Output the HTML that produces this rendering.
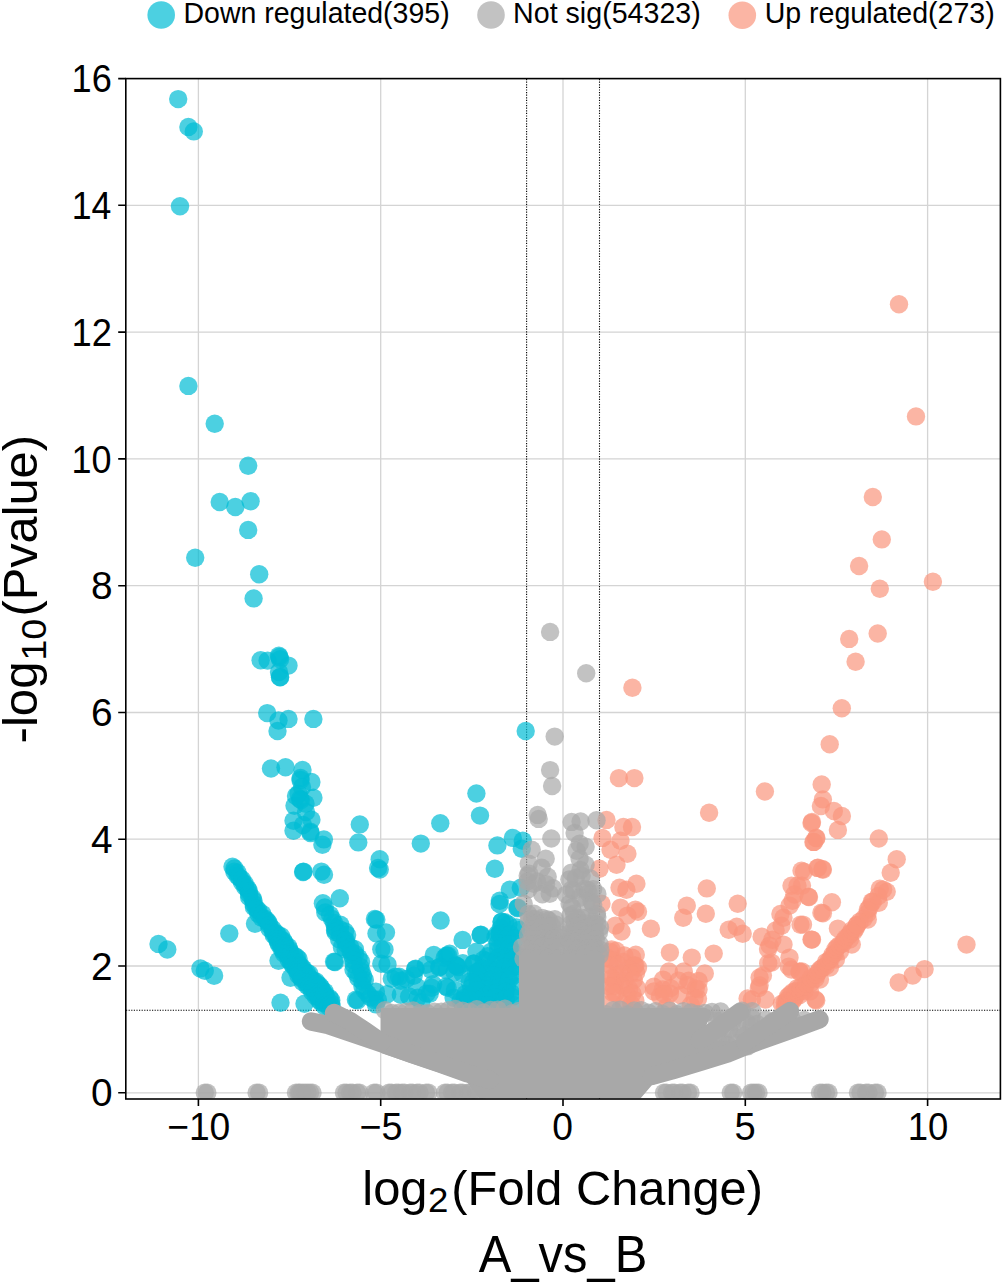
<!DOCTYPE html>
<html><head><meta charset="utf-8">
<style>
html,body{margin:0;padding:0;background:#fff;}
body{width:1003px;height:1284px;overflow:hidden;}
svg{display:block;font-family:"Liberation Sans",sans-serif;}
</style></head>
<body>
<svg width="1003" height="1284" viewBox="0 0 1003 1284">
<defs><clipPath id="pa"><rect x="126.6" y="79.4" width="873" height="1018.8"/></clipPath></defs>
<rect width="1003" height="1284" fill="#fff"/>
<g stroke="#d4d4d4" stroke-width="1.3" fill="none">
<path d="M198.4 79V1099M380.7 79V1099M563 79V1099M745.3 79V1099M927.6 79V1099"/>
<path d="M126 1092.8H1000M126 966H1000M126 839.2H1000M126 712.5H1000M126 585.7H1000M126 458.9H1000M126 332.1H1000M126 205.3H1000"/>
</g>
<g stroke="#000" stroke-width="1.1" stroke-dasharray="1.2 1.4" fill="none">
<path d="M526.6 79V1099M599.5 79V1099M126 1010.3H1000"/>
</g>
<g clip-path="url(#pa)">
<g fill="#00BCD4" fill-opacity="0.7"><circle cx="178.2" cy="99.1" r="9.2"/><circle cx="188.4" cy="126.9" r="9.2"/><circle cx="193.8" cy="131.4" r="9.2"/><circle cx="180.0" cy="206.2" r="9.2"/><circle cx="188.4" cy="385.9" r="9.2"/><circle cx="214.7" cy="423.8" r="9.2"/><circle cx="248.2" cy="465.7" r="9.2"/><circle cx="219.7" cy="502.0" r="9.2"/><circle cx="235.3" cy="507.0" r="9.2"/><circle cx="250.6" cy="501.2" r="9.2"/><circle cx="248.2" cy="529.9" r="9.2"/><circle cx="195.2" cy="557.8" r="9.2"/><circle cx="259.2" cy="574.3" r="9.2"/><circle cx="253.6" cy="598.4" r="9.2"/><circle cx="260.6" cy="660.2" r="9.2"/><circle cx="267.6" cy="660.6" r="9.2"/><circle cx="278.9" cy="655.7" r="9.2"/><circle cx="280.1" cy="659.2" r="9.2"/><circle cx="288.5" cy="665.6" r="9.2"/><circle cx="280.1" cy="677.2" r="9.2"/><circle cx="279.0" cy="672.0" r="9.2"/><circle cx="267.2" cy="713.1" r="9.2"/><circle cx="278.5" cy="720.5" r="9.2"/><circle cx="288.5" cy="718.9" r="9.2"/><circle cx="277.5" cy="731.0" r="9.2"/><circle cx="313.4" cy="718.9" r="9.2"/><circle cx="271.0" cy="768.5" r="9.2"/><circle cx="285.5" cy="767.3" r="9.2"/><circle cx="302.5" cy="769.9" r="9.2"/><circle cx="300.5" cy="777.9" r="9.2"/><circle cx="311.4" cy="781.9" r="9.2"/><circle cx="298.5" cy="793.8" r="9.2"/><circle cx="313.4" cy="797.8" r="9.2"/><circle cx="305.5" cy="803.8" r="9.2"/><circle cx="294.5" cy="805.8" r="9.2"/><circle cx="293.5" cy="820.8" r="9.2"/><circle cx="311.4" cy="819.8" r="9.2"/><circle cx="293.5" cy="830.7" r="9.2"/><circle cx="310.4" cy="831.7" r="9.2"/><circle cx="302.0" cy="787.0" r="9.2"/><circle cx="300.0" cy="799.0" r="9.2"/><circle cx="306.0" cy="812.0" r="9.2"/><circle cx="303.0" cy="825.0" r="9.2"/><circle cx="322.4" cy="844.7" r="9.2"/><circle cx="303.5" cy="871.6" r="9.2"/><circle cx="321.4" cy="871.6" r="9.2"/><circle cx="324.0" cy="874.8" r="9.2"/><circle cx="323.9" cy="839.4" r="9.2"/><circle cx="359.8" cy="824.4" r="9.2"/><circle cx="358.3" cy="842.4" r="9.2"/><circle cx="440.3" cy="823.3" r="9.2"/><circle cx="476.4" cy="793.5" r="9.2"/><circle cx="480.0" cy="815.6" r="9.2"/><circle cx="420.8" cy="843.6" r="9.2"/><circle cx="379.7" cy="859.2" r="9.2"/><circle cx="379.7" cy="869.6" r="9.2"/><circle cx="310.5" cy="833.0" r="9.2"/><circle cx="279.5" cy="657.0" r="9.2"/><circle cx="280.0" cy="677.0" r="9.2"/><circle cx="300.5" cy="780.0" r="9.2"/><circle cx="301.0" cy="800.0" r="9.2"/><circle cx="296.0" cy="796.0" r="9.2"/><circle cx="229.3" cy="933.5" r="9.2"/><circle cx="158.5" cy="943.9" r="9.2"/><circle cx="167.3" cy="949.5" r="9.2"/><circle cx="200.4" cy="968.4" r="9.2"/><circle cx="204.8" cy="970.8" r="9.2"/><circle cx="214.1" cy="975.8" r="9.2"/><circle cx="280.5" cy="1002.7" r="9.2"/><circle cx="255.0" cy="923.7" r="9.2"/><circle cx="278.5" cy="960.8" r="9.2"/><circle cx="290.5" cy="977.8" r="9.2"/><circle cx="304.5" cy="1003.7" r="9.2"/><circle cx="303.1" cy="872.0" r="9.2"/><circle cx="339.8" cy="898.3" r="9.2"/><circle cx="335.0" cy="962.0" r="9.2"/><circle cx="357.4" cy="1000.4" r="9.2"/><circle cx="374.9" cy="919.0" r="9.2"/><circle cx="378.1" cy="868.0" r="9.2"/><circle cx="376.5" cy="933.4" r="9.2"/><circle cx="381.3" cy="949.3" r="9.2"/><circle cx="381.3" cy="963.7" r="9.2"/><circle cx="376.3" cy="919.7" r="9.2"/><circle cx="386.0" cy="932.4" r="9.2"/><circle cx="384.5" cy="949.6" r="9.2"/><circle cx="387.5" cy="964.6" r="9.2"/><circle cx="395.7" cy="976.6" r="9.2"/><circle cx="415.1" cy="969.1" r="9.2"/><circle cx="440.6" cy="920.5" r="9.2"/><circle cx="439.1" cy="967.6" r="9.2"/><circle cx="446.5" cy="955.6" r="9.2"/><circle cx="391.8" cy="978.8" r="9.2"/><circle cx="400.8" cy="980.8" r="9.2"/><circle cx="415.7" cy="968.8" r="9.2"/><circle cx="413.7" cy="975.8" r="9.2"/><circle cx="416.7" cy="986.7" r="9.2"/><circle cx="400.8" cy="994.7" r="9.2"/><circle cx="417.7" cy="997.7" r="9.2"/><circle cx="431.7" cy="987.7" r="9.2"/><circle cx="447.6" cy="987.7" r="9.2"/><circle cx="429.7" cy="993.7" r="9.2"/><circle cx="462.6" cy="939.9" r="9.2"/><circle cx="480.5" cy="934.9" r="9.2"/><circle cx="449.6" cy="953.8" r="9.2"/><circle cx="444.7" cy="957.8" r="9.2"/><circle cx="439.7" cy="966.8" r="9.2"/><circle cx="456.6" cy="965.8" r="9.2"/><circle cx="462.6" cy="973.8" r="9.2"/><circle cx="473.6" cy="963.8" r="9.2"/><circle cx="483.5" cy="959.8" r="9.2"/><circle cx="469.6" cy="981.8" r="9.2"/><circle cx="453.6" cy="997.7" r="9.2"/><circle cx="465.6" cy="993.7" r="9.2"/><circle cx="499.5" cy="904.0" r="9.2"/><circle cx="501.5" cy="921.9" r="9.2"/><circle cx="499.5" cy="933.9" r="9.2"/><circle cx="517.4" cy="908.0" r="9.2"/><circle cx="519.4" cy="929.9" r="9.2"/><circle cx="355.9" cy="999.7" r="9.2"/><circle cx="334.0" cy="961.8" r="9.2"/><circle cx="335.0" cy="929.9" r="9.2"/><circle cx="375.9" cy="991.7" r="9.2"/><circle cx="377.9" cy="999.7" r="9.2"/><circle cx="525.7" cy="731.0" r="9.2"/><circle cx="512.8" cy="837.9" r="9.2"/><circle cx="522.8" cy="840.8" r="9.2"/><circle cx="521.8" cy="848.8" r="9.2"/><circle cx="497.4" cy="845.4" r="9.2"/><circle cx="494.8" cy="868.8" r="9.2"/><circle cx="509.8" cy="889.7" r="9.2"/><circle cx="520.8" cy="887.7" r="9.2"/><circle cx="499.8" cy="900.7" r="9.2"/><circle cx="517.8" cy="907.6" r="9.2"/><circle cx="501.8" cy="921.6" r="9.2"/><circle cx="480.9" cy="934.6" r="9.2"/><circle cx="499.8" cy="933.6" r="9.2"/><circle cx="448.0" cy="955.5" r="9.2"/><circle cx="456.0" cy="965.5" r="9.2"/><circle cx="446.0" cy="986.4" r="9.2"/><circle cx="473.9" cy="963.5" r="9.2"/><circle cx="232.5" cy="866.7" r="9.2"/><circle cx="234.5" cy="868.5" r="9.2"/><circle cx="234.4" cy="871.7" r="9.2"/><circle cx="237.6" cy="872.8" r="9.2"/><circle cx="237.7" cy="876.0" r="9.2"/><circle cx="239.6" cy="877.8" r="9.2"/><circle cx="242.0" cy="879.5" r="9.2"/><circle cx="242.1" cy="882.6" r="9.2"/><circle cx="245.0" cy="883.9" r="9.2"/><circle cx="245.2" cy="886.9" r="9.2"/><circle cx="247.7" cy="888.7" r="9.2"/><circle cx="248.9" cy="891.1" r="9.2"/><circle cx="249.1" cy="894.0" r="9.2"/><circle cx="249.1" cy="897.1" r="9.2"/><circle cx="252.6" cy="898.3" r="9.2"/><circle cx="253.6" cy="900.9" r="9.2"/><circle cx="253.6" cy="903.9" r="9.2"/><circle cx="253.9" cy="906.9" r="9.2"/><circle cx="256.4" cy="908.7" r="9.2"/><circle cx="258.4" cy="910.4" r="9.2"/><circle cx="258.3" cy="913.8" r="9.2"/><circle cx="262.5" cy="914.0" r="9.2"/><circle cx="261.7" cy="917.8" r="9.2"/><circle cx="264.9" cy="918.7" r="9.2"/><circle cx="266.8" cy="920.6" r="9.2"/><circle cx="268.4" cy="922.6" r="9.2"/><circle cx="269.4" cy="925.2" r="9.2"/><circle cx="269.4" cy="928.4" r="9.2"/><circle cx="272.8" cy="929.2" r="9.2"/><circle cx="273.2" cy="932.2" r="9.2"/><circle cx="276.2" cy="933.3" r="9.2"/><circle cx="273.7" cy="935.0" r="9.2"/><circle cx="278.0" cy="935.1" r="9.2"/><circle cx="276.1" cy="936.6" r="9.2"/><circle cx="281.1" cy="936.2" r="9.2"/><circle cx="277.1" cy="939.1" r="9.2"/><circle cx="280.9" cy="939.6" r="9.2"/><circle cx="277.9" cy="941.7" r="9.2"/><circle cx="283.6" cy="940.9" r="9.2"/><circle cx="278.9" cy="944.2" r="9.2"/><circle cx="284.8" cy="943.2" r="9.2"/><circle cx="281.2" cy="945.8" r="9.2"/><circle cx="285.3" cy="946.1" r="9.2"/><circle cx="281.5" cy="948.8" r="9.2"/><circle cx="288.5" cy="947.0" r="9.2"/><circle cx="283.3" cy="950.7" r="9.2"/><circle cx="289.3" cy="949.7" r="9.2"/><circle cx="283.9" cy="953.5" r="9.2"/><circle cx="290.2" cy="952.2" r="9.2"/><circle cx="287.1" cy="954.5" r="9.2"/><circle cx="291.1" cy="954.8" r="9.2"/><circle cx="289.1" cy="956.3" r="9.2"/><circle cx="294.3" cy="955.7" r="9.2"/><circle cx="288.7" cy="959.8" r="9.2"/><circle cx="296.7" cy="957.3" r="9.2"/><circle cx="290.9" cy="961.4" r="9.2"/><circle cx="298.6" cy="959.1" r="9.2"/><circle cx="291.9" cy="963.9" r="9.2"/><circle cx="298.0" cy="962.8" r="9.2"/><circle cx="293.6" cy="965.9" r="9.2"/><circle cx="299.2" cy="965.1" r="9.2"/><circle cx="295.9" cy="967.5" r="9.2"/><circle cx="301.3" cy="966.8" r="9.2"/><circle cx="296.5" cy="970.3" r="9.2"/><circle cx="303.3" cy="968.7" r="9.2"/><circle cx="298.4" cy="972.1" r="9.2"/><circle cx="304.1" cy="971.3" r="9.2"/><circle cx="298.4" cy="975.3" r="9.2"/><circle cx="306.7" cy="972.6" r="9.2"/><circle cx="300.7" cy="976.9" r="9.2"/><circle cx="309.5" cy="973.9" r="9.2"/><circle cx="302.1" cy="979.1" r="9.2"/><circle cx="309.3" cy="977.2" r="9.2"/><circle cx="302.7" cy="981.9" r="9.2"/><circle cx="310.2" cy="979.4" r="9.2"/><circle cx="306.5" cy="982.8" r="9.2"/><circle cx="313.2" cy="980.4" r="9.2"/><circle cx="307.2" cy="985.7" r="9.2"/><circle cx="316.0" cy="981.5" r="9.2"/><circle cx="309.6" cy="987.2" r="9.2"/><circle cx="317.4" cy="983.9" r="9.2"/><circle cx="312.3" cy="988.4" r="9.2"/><circle cx="319.5" cy="985.6" r="9.2"/><circle cx="312.3" cy="992.0" r="9.2"/><circle cx="321.1" cy="987.8" r="9.2"/><circle cx="315.5" cy="992.7" r="9.2"/><circle cx="322.2" cy="990.4" r="9.2"/><circle cx="315.7" cy="996.2" r="9.2"/><circle cx="324.8" cy="991.7" r="9.2"/><circle cx="318.6" cy="997.2" r="9.2"/><circle cx="325.3" cy="994.8" r="9.2"/><circle cx="319.2" cy="1000.3" r="9.2"/><circle cx="326.4" cy="997.4" r="9.2"/><circle cx="321.0" cy="1002.2" r="9.2"/><circle cx="329.6" cy="998.1" r="9.2"/><circle cx="324.0" cy="1003.1" r="9.2"/><circle cx="331.2" cy="1000.3" r="9.2"/><circle cx="324.6" cy="1006.3" r="9.2"/><circle cx="331.4" cy="1003.8" r="9.2"/><circle cx="328.3" cy="1006.5" r="9.2"/><circle cx="331.8" cy="1007.0" r="9.2"/><circle cx="322.9" cy="903.2" r="9.2"/><circle cx="324.8" cy="907.4" r="9.2"/><circle cx="325.3" cy="912.4" r="9.2"/><circle cx="330.0" cy="914.8" r="9.2"/><circle cx="332.2" cy="918.9" r="9.2"/><circle cx="334.2" cy="923.0" r="9.2"/><circle cx="340.4" cy="924.7" r="9.2"/><circle cx="335.2" cy="927.6" r="9.2"/><circle cx="340.1" cy="929.5" r="9.2"/><circle cx="335.5" cy="932.0" r="9.2"/><circle cx="345.0" cy="931.5" r="9.2"/><circle cx="339.9" cy="934.2" r="9.2"/><circle cx="347.1" cy="935.0" r="9.2"/><circle cx="339.1" cy="939.3" r="9.2"/><circle cx="345.9" cy="940.2" r="9.2"/><circle cx="345.0" cy="940.7" r="9.2"/><circle cx="346.5" cy="944.5" r="9.2"/><circle cx="341.9" cy="947.0" r="9.2"/><circle cx="350.2" cy="947.1" r="9.2"/><circle cx="345.6" cy="949.6" r="9.2"/><circle cx="354.9" cy="949.2" r="9.2"/><circle cx="350.6" cy="951.5" r="9.2"/><circle cx="355.1" cy="954.0" r="9.2"/><circle cx="352.2" cy="955.2" r="9.2"/><circle cx="358.6" cy="957.7" r="9.2"/><circle cx="353.0" cy="959.9" r="9.2"/><circle cx="361.1" cy="961.7" r="9.2"/><circle cx="353.7" cy="964.6" r="9.2"/><circle cx="360.4" cy="967.0" r="9.2"/><circle cx="353.5" cy="969.7" r="9.2"/><circle cx="361.5" cy="971.5" r="9.2"/><circle cx="356.5" cy="973.5" r="9.2"/><circle cx="363.2" cy="975.9" r="9.2"/><circle cx="358.3" cy="977.9" r="9.2"/><circle cx="364.9" cy="979.9" r="9.2"/><circle cx="362.3" cy="981.3" r="9.2"/><circle cx="362.5" cy="986.4" r="9.2"/><circle cx="364.6" cy="990.2" r="9.2"/><circle cx="367.6" cy="993.7" r="9.2"/><circle cx="370.5" cy="997.2" r="9.2"/><circle cx="374.7" cy="1000.0" r="9.2"/><circle cx="375.9" cy="1004.4" r="9.2"/><circle cx="505.1" cy="922.4" r="9.2"/><circle cx="500.6" cy="928.5" r="9.2"/><circle cx="508.4" cy="924.5" r="9.2"/><circle cx="516.4" cy="927.5" r="9.2"/><circle cx="497.0" cy="934.3" r="9.2"/><circle cx="504.0" cy="933.8" r="9.2"/><circle cx="510.3" cy="934.1" r="9.2"/><circle cx="495.5" cy="937.3" r="9.2"/><circle cx="502.7" cy="939.3" r="9.2"/><circle cx="507.5" cy="938.4" r="9.2"/><circle cx="515.2" cy="938.7" r="9.2"/><circle cx="497.7" cy="943.2" r="9.2"/><circle cx="502.7" cy="946.2" r="9.2"/><circle cx="509.1" cy="944.5" r="9.2"/><circle cx="491.2" cy="951.6" r="9.2"/><circle cx="498.2" cy="949.3" r="9.2"/><circle cx="509.0" cy="948.8" r="9.2"/><circle cx="513.0" cy="951.4" r="9.2"/><circle cx="487.7" cy="956.3" r="9.2"/><circle cx="498.3" cy="957.7" r="9.2"/><circle cx="506.0" cy="957.8" r="9.2"/><circle cx="512.8" cy="957.5" r="9.2"/><circle cx="517.9" cy="955.2" r="9.2"/><circle cx="486.6" cy="960.9" r="9.2"/><circle cx="495.8" cy="961.4" r="9.2"/><circle cx="501.0" cy="962.2" r="9.2"/><circle cx="505.1" cy="962.9" r="9.2"/><circle cx="512.7" cy="960.5" r="9.2"/><circle cx="478.1" cy="971.1" r="9.2"/><circle cx="481.7" cy="968.4" r="9.2"/><circle cx="488.8" cy="969.2" r="9.2"/><circle cx="497.6" cy="970.2" r="9.2"/><circle cx="505.0" cy="967.5" r="9.2"/><circle cx="510.6" cy="968.8" r="9.2"/><circle cx="515.6" cy="966.4" r="9.2"/><circle cx="478.2" cy="973.4" r="9.2"/><circle cx="486.6" cy="974.6" r="9.2"/><circle cx="492.6" cy="975.5" r="9.2"/><circle cx="499.1" cy="976.8" r="9.2"/><circle cx="509.8" cy="975.9" r="9.2"/><circle cx="514.2" cy="974.9" r="9.2"/><circle cx="477.5" cy="980.2" r="9.2"/><circle cx="483.1" cy="983.0" r="9.2"/><circle cx="490.5" cy="979.9" r="9.2"/><circle cx="499.4" cy="980.3" r="9.2"/><circle cx="501.6" cy="981.8" r="9.2"/><circle cx="509.0" cy="979.9" r="9.2"/><circle cx="471.1" cy="987.4" r="9.2"/><circle cx="477.4" cy="985.9" r="9.2"/><circle cx="485.9" cy="989.1" r="9.2"/><circle cx="491.4" cy="988.2" r="9.2"/><circle cx="499.0" cy="987.3" r="9.2"/><circle cx="507.0" cy="986.8" r="9.2"/><circle cx="515.7" cy="986.5" r="9.2"/><circle cx="469.7" cy="995.3" r="9.2"/><circle cx="476.9" cy="990.8" r="9.2"/><circle cx="483.8" cy="994.4" r="9.2"/><circle cx="491.1" cy="993.1" r="9.2"/><circle cx="496.3" cy="992.9" r="9.2"/><circle cx="505.5" cy="991.9" r="9.2"/><circle cx="511.1" cy="993.0" r="9.2"/><circle cx="460.6" cy="1000.8" r="9.2"/><circle cx="464.5" cy="997.9" r="9.2"/><circle cx="472.4" cy="998.0" r="9.2"/><circle cx="479.1" cy="1000.0" r="9.2"/><circle cx="488.6" cy="999.6" r="9.2"/><circle cx="495.1" cy="997.2" r="9.2"/><circle cx="499.8" cy="1001.6" r="9.2"/><circle cx="505.8" cy="998.8" r="9.2"/><circle cx="512.4" cy="997.1" r="9.2"/><circle cx="462.7" cy="1003.4" r="9.2"/><circle cx="468.0" cy="1003.9" r="9.2"/><circle cx="482.7" cy="1005.4" r="9.2"/><circle cx="488.1" cy="1005.5" r="9.2"/><circle cx="502.0" cy="1005.3" r="9.2"/><circle cx="512.1" cy="1004.1" r="9.2"/><circle cx="476.4" cy="951.8" r="9.2"/><circle cx="425.9" cy="964.8" r="9.2"/><circle cx="433.8" cy="955.0" r="9.2"/><circle cx="458.1" cy="967.1" r="9.2"/><circle cx="462.8" cy="963.2" r="9.2"/><circle cx="399.1" cy="976.7" r="9.2"/><circle cx="406.2" cy="978.9" r="9.2"/><circle cx="431.0" cy="969.7" r="9.2"/><circle cx="446.7" cy="970.1" r="9.2"/><circle cx="454.5" cy="971.9" r="9.2"/><circle cx="476.0" cy="972.8" r="9.2"/><circle cx="387.2" cy="994.3" r="9.2"/><circle cx="409.1" cy="996.4" r="9.2"/><circle cx="426.6" cy="993.6" r="9.2"/><circle cx="433.0" cy="984.2" r="9.2"/><circle cx="454.9" cy="989.9" r="9.2"/><circle cx="472.7" cy="982.9" r="9.2"/><circle cx="421.3" cy="1002.4" r="9.2"/><circle cx="469.0" cy="999.3" r="9.2"/></g>
<g fill="#F9967D" fill-opacity="0.7"><circle cx="899.0" cy="304.2" r="9.2"/><circle cx="916.0" cy="416.4" r="9.2"/><circle cx="872.8" cy="497.0" r="9.2"/><circle cx="881.8" cy="539.4" r="9.2"/><circle cx="859.1" cy="566.0" r="9.2"/><circle cx="879.8" cy="588.7" r="9.2"/><circle cx="932.9" cy="581.7" r="9.2"/><circle cx="877.7" cy="633.5" r="9.2"/><circle cx="849.2" cy="638.9" r="9.2"/><circle cx="855.6" cy="661.8" r="9.2"/><circle cx="841.8" cy="708.3" r="9.2"/><circle cx="829.7" cy="744.2" r="9.2"/><circle cx="821.7" cy="784.4" r="9.2"/><circle cx="822.9" cy="799.4" r="9.2"/><circle cx="632.4" cy="687.7" r="9.2"/><circle cx="618.9" cy="778.1" r="9.2"/><circle cx="634.4" cy="778.1" r="9.2"/><circle cx="709.1" cy="812.7" r="9.2"/><circle cx="764.9" cy="791.5" r="9.2"/><circle cx="606.5" cy="819.9" r="9.2"/><circle cx="623.4" cy="826.9" r="9.2"/><circle cx="602.5" cy="837.9" r="9.2"/><circle cx="620.5" cy="840.8" r="9.2"/><circle cx="610.5" cy="849.8" r="9.2"/><circle cx="627.4" cy="853.8" r="9.2"/><circle cx="599.5" cy="868.8" r="9.2"/><circle cx="616.5" cy="864.8" r="9.2"/><circle cx="636.4" cy="883.7" r="9.2"/><circle cx="619.5" cy="887.7" r="9.2"/><circle cx="626.4" cy="889.7" r="9.2"/><circle cx="601.5" cy="903.7" r="9.2"/><circle cx="620.5" cy="907.6" r="9.2"/><circle cx="635.4" cy="909.6" r="9.2"/><circle cx="627.4" cy="915.6" r="9.2"/><circle cx="615.5" cy="925.6" r="9.2"/><circle cx="621.5" cy="931.6" r="9.2"/><circle cx="611.5" cy="949.5" r="9.2"/><circle cx="635.4" cy="965.5" r="9.2"/><circle cx="632.0" cy="827.0" r="9.2"/><circle cx="638.0" cy="911.7" r="9.2"/><circle cx="650.9" cy="928.7" r="9.2"/><circle cx="706.8" cy="888.4" r="9.2"/><circle cx="686.8" cy="905.7" r="9.2"/><circle cx="683.2" cy="917.7" r="9.2"/><circle cx="705.8" cy="913.7" r="9.2"/><circle cx="737.7" cy="903.7" r="9.2"/><circle cx="728.7" cy="929.7" r="9.2"/><circle cx="736.7" cy="926.7" r="9.2"/><circle cx="742.7" cy="933.7" r="9.2"/><circle cx="669.9" cy="952.6" r="9.2"/><circle cx="691.8" cy="957.6" r="9.2"/><circle cx="713.7" cy="953.6" r="9.2"/><circle cx="638.0" cy="967.6" r="9.2"/><circle cx="668.9" cy="971.5" r="9.2"/><circle cx="683.8" cy="971.5" r="9.2"/><circle cx="704.8" cy="973.5" r="9.2"/><circle cx="653.9" cy="991.5" r="9.2"/><circle cx="669.9" cy="993.5" r="9.2"/><circle cx="695.8" cy="988.5" r="9.2"/><circle cx="747.6" cy="998.5" r="9.2"/><circle cx="761.6" cy="936.7" r="9.2"/><circle cx="769.6" cy="945.6" r="9.2"/><circle cx="783.5" cy="917.7" r="9.2"/><circle cx="781.5" cy="925.7" r="9.2"/><circle cx="783.5" cy="944.6" r="9.2"/><circle cx="789.5" cy="957.6" r="9.2"/><circle cx="771.6" cy="962.6" r="9.2"/><circle cx="759.6" cy="977.5" r="9.2"/><circle cx="759.6" cy="985.5" r="9.2"/><circle cx="765.6" cy="999.5" r="9.2"/><circle cx="791.5" cy="969.5" r="9.2"/><circle cx="799.5" cy="971.5" r="9.2"/><circle cx="800.5" cy="924.7" r="9.2"/><circle cx="811.5" cy="939.6" r="9.2"/><circle cx="791.5" cy="885.8" r="9.2"/><circle cx="797.5" cy="885.8" r="9.2"/><circle cx="792.5" cy="900.8" r="9.2"/><circle cx="801.5" cy="870.8" r="9.2"/><circle cx="808.5" cy="896.8" r="9.2"/><circle cx="817.4" cy="867.9" r="9.2"/><circle cx="822.4" cy="868.9" r="9.2"/><circle cx="821.4" cy="912.7" r="9.2"/><circle cx="811.5" cy="823.0" r="9.2"/><circle cx="813.4" cy="841.9" r="9.2"/><circle cx="816.4" cy="838.0" r="9.2"/><circle cx="815.4" cy="999.5" r="9.2"/><circle cx="820.9" cy="806.0" r="9.2"/><circle cx="833.9" cy="811.0" r="9.2"/><circle cx="841.9" cy="816.0" r="9.2"/><circle cx="812.0" cy="821.9" r="9.2"/><circle cx="837.9" cy="829.9" r="9.2"/><circle cx="816.0" cy="837.9" r="9.2"/><circle cx="814.0" cy="841.9" r="9.2"/><circle cx="878.8" cy="838.5" r="9.2"/><circle cx="896.7" cy="859.2" r="9.2"/><circle cx="890.7" cy="872.8" r="9.2"/><circle cx="879.8" cy="888.7" r="9.2"/><circle cx="886.7" cy="891.7" r="9.2"/><circle cx="878.8" cy="902.7" r="9.2"/><circle cx="871.8" cy="901.7" r="9.2"/><circle cx="867.8" cy="909.7" r="9.2"/><circle cx="867.8" cy="919.6" r="9.2"/><circle cx="859.8" cy="921.6" r="9.2"/><circle cx="853.8" cy="931.6" r="9.2"/><circle cx="849.9" cy="939.6" r="9.2"/><circle cx="851.8" cy="944.6" r="9.2"/><circle cx="839.9" cy="951.5" r="9.2"/><circle cx="835.9" cy="959.5" r="9.2"/><circle cx="829.9" cy="967.5" r="9.2"/><circle cx="819.9" cy="979.5" r="9.2"/><circle cx="810.0" cy="991.4" r="9.2"/><circle cx="804.0" cy="871.8" r="9.2"/><circle cx="818.0" cy="867.8" r="9.2"/><circle cx="822.9" cy="869.8" r="9.2"/><circle cx="802.0" cy="885.7" r="9.2"/><circle cx="809.0" cy="897.1" r="9.2"/><circle cx="831.9" cy="902.3" r="9.2"/><circle cx="822.9" cy="913.3" r="9.2"/><circle cx="803.0" cy="924.6" r="9.2"/><circle cx="837.9" cy="928.6" r="9.2"/><circle cx="812.0" cy="939.6" r="9.2"/><circle cx="802.0" cy="971.5" r="9.2"/><circle cx="966.5" cy="944.6" r="9.2"/><circle cx="924.6" cy="969.1" r="9.2"/><circle cx="912.7" cy="975.5" r="9.2"/><circle cx="898.7" cy="982.5" r="9.2"/><circle cx="799.7" cy="972.0" r="9.2"/><circle cx="788.8" cy="966.6" r="9.2"/><circle cx="816.2" cy="1000.6" r="9.2"/><circle cx="786.6" cy="1002.8" r="9.2"/><circle cx="781.8" cy="1003.8" r="9.2"/><circle cx="784.9" cy="1006.9" r="9.2"/><circle cx="784.9" cy="1002.4" r="9.2"/><circle cx="786.9" cy="1004.4" r="9.2"/><circle cx="786.9" cy="1000.0" r="9.2"/><circle cx="789.8" cy="1002.9" r="9.2"/><circle cx="788.0" cy="996.6" r="9.2"/><circle cx="792.4" cy="1001.0" r="9.2"/><circle cx="790.2" cy="994.4" r="9.2"/><circle cx="794.4" cy="998.6" r="9.2"/><circle cx="792.6" cy="992.3" r="9.2"/><circle cx="795.7" cy="995.4" r="9.2"/><circle cx="795.7" cy="991.0" r="9.2"/><circle cx="799.7" cy="995.1" r="9.2"/><circle cx="797.3" cy="988.1" r="9.2"/><circle cx="800.4" cy="991.3" r="9.2"/><circle cx="800.9" cy="987.1" r="9.2"/><circle cx="804.2" cy="991.1" r="9.2"/><circle cx="804.6" cy="986.3" r="9.2"/><circle cx="806.8" cy="983.7" r="9.2"/><circle cx="810.7" cy="983.1" r="9.2"/><circle cx="811.1" cy="978.3" r="9.2"/><circle cx="815.6" cy="978.4" r="9.2"/><circle cx="816.7" cy="974.7" r="9.2"/><circle cx="818.2" cy="971.9" r="9.2"/><circle cx="820.0" cy="969.4" r="9.2"/><circle cx="822.5" cy="967.4" r="9.2"/><circle cx="825.9" cy="966.0" r="9.2"/><circle cx="826.0" cy="962.1" r="9.2"/><circle cx="829.0" cy="960.5" r="9.2"/><circle cx="831.1" cy="958.2" r="9.2"/><circle cx="832.2" cy="955.1" r="9.2"/><circle cx="834.7" cy="953.1" r="9.2"/><circle cx="835.3" cy="949.5" r="9.2"/><circle cx="837.2" cy="947.1" r="9.2"/><circle cx="839.6" cy="945.0" r="9.2"/><circle cx="842.9" cy="943.6" r="9.2"/><circle cx="844.1" cy="940.6" r="9.2"/><circle cx="845.8" cy="937.9" r="9.2"/><circle cx="848.5" cy="936.1" r="9.2"/><circle cx="850.1" cy="933.4" r="9.2"/><circle cx="851.9" cy="930.2" r="9.2"/><circle cx="855.6" cy="928.5" r="9.2"/><circle cx="857.0" cy="925.0" r="9.2"/><circle cx="856.9" cy="924.9" r="9.2"/><circle cx="863.8" cy="918.5" r="9.2"/><circle cx="867.5" cy="913.4" r="9.2"/><circle cx="869.6" cy="907.2" r="9.2"/><circle cx="872.8" cy="901.8" r="9.2"/><circle cx="878.3" cy="895.9" r="9.2"/><circle cx="883.1" cy="889.6" r="9.2"/><circle cx="751.9" cy="999.5" r="9.2"/><circle cx="758.8" cy="987.9" r="9.2"/><circle cx="762.9" cy="975.4" r="9.2"/><circle cx="768.2" cy="963.3" r="9.2"/><circle cx="768.0" cy="949.1" r="9.2"/><circle cx="772.3" cy="939.8" r="9.2"/><circle cx="775.6" cy="930.4" r="9.2"/><circle cx="780.4" cy="914.0" r="9.2"/><circle cx="789.6" cy="905.6" r="9.2"/><circle cx="794.4" cy="894.5" r="9.2"/><circle cx="610.2" cy="951.7" r="9.2"/><circle cx="616.2" cy="950.8" r="9.2"/><circle cx="624.4" cy="955.4" r="9.2"/><circle cx="635.8" cy="954.7" r="9.2"/><circle cx="607.7" cy="958.2" r="9.2"/><circle cx="612.9" cy="960.6" r="9.2"/><circle cx="623.3" cy="961.9" r="9.2"/><circle cx="632.1" cy="957.6" r="9.2"/><circle cx="610.0" cy="965.1" r="9.2"/><circle cx="617.9" cy="964.6" r="9.2"/><circle cx="628.4" cy="968.9" r="9.2"/><circle cx="634.3" cy="965.8" r="9.2"/><circle cx="608.3" cy="974.2" r="9.2"/><circle cx="616.1" cy="975.8" r="9.2"/><circle cx="622.0" cy="973.4" r="9.2"/><circle cx="630.6" cy="973.5" r="9.2"/><circle cx="636.1" cy="972.7" r="9.2"/><circle cx="611.8" cy="978.2" r="9.2"/><circle cx="615.5" cy="981.5" r="9.2"/><circle cx="624.8" cy="981.0" r="9.2"/><circle cx="633.8" cy="979.9" r="9.2"/><circle cx="608.8" cy="986.1" r="9.2"/><circle cx="613.5" cy="986.1" r="9.2"/><circle cx="622.7" cy="986.5" r="9.2"/><circle cx="629.2" cy="989.1" r="9.2"/><circle cx="637.0" cy="988.1" r="9.2"/><circle cx="612.3" cy="992.5" r="9.2"/><circle cx="615.5" cy="993.2" r="9.2"/><circle cx="627.5" cy="995.4" r="9.2"/><circle cx="632.5" cy="993.8" r="9.2"/><circle cx="611.4" cy="1002.8" r="9.2"/><circle cx="624.2" cy="1004.2" r="9.2"/><circle cx="631.3" cy="1004.3" r="9.2"/><circle cx="635.3" cy="1000.5" r="9.2"/><circle cx="663.1" cy="979.6" r="9.2"/><circle cx="678.7" cy="980.6" r="9.2"/><circle cx="688.7" cy="980.7" r="9.2"/><circle cx="698.7" cy="981.0" r="9.2"/><circle cx="653.8" cy="986.7" r="9.2"/><circle cx="662.9" cy="989.4" r="9.2"/><circle cx="670.5" cy="988.1" r="9.2"/><circle cx="687.5" cy="985.2" r="9.2"/><circle cx="698.5" cy="989.4" r="9.2"/><circle cx="660.0" cy="996.6" r="9.2"/><circle cx="664.0" cy="994.1" r="9.2"/><circle cx="680.3" cy="995.1" r="9.2"/><circle cx="694.5" cy="998.0" r="9.2"/><circle cx="698.0" cy="998.7" r="9.2"/><circle cx="666.6" cy="1006.9" r="9.2"/><circle cx="690.8" cy="1005.3" r="9.2"/></g>
<g fill="#A8A8A8" fill-opacity="0.7"><circle cx="550.1" cy="631.9" r="9.2"/><circle cx="586.2" cy="673.2" r="9.2"/><circle cx="554.7" cy="736.6" r="9.2"/><circle cx="550.1" cy="770.1" r="9.2"/><circle cx="552.1" cy="786.0" r="9.2"/><circle cx="537.7" cy="814.9" r="9.2"/><circle cx="538.7" cy="818.9" r="9.2"/><circle cx="551.3" cy="838.5" r="9.2"/><circle cx="571.6" cy="821.9" r="9.2"/><circle cx="580.6" cy="821.5" r="9.2"/><circle cx="596.5" cy="820.3" r="9.2"/><circle cx="574.6" cy="832.9" r="9.2"/><circle cx="579.6" cy="843.8" r="9.2"/><circle cx="585.6" cy="846.8" r="9.2"/><circle cx="576.6" cy="850.8" r="9.2"/><circle cx="579.6" cy="858.8" r="9.2"/><circle cx="585.6" cy="864.8" r="9.2"/><circle cx="531.7" cy="849.8" r="9.2"/><circle cx="545.7" cy="858.8" r="9.2"/><circle cx="528.7" cy="863.8" r="9.2"/><circle cx="541.7" cy="867.8" r="9.2"/><circle cx="527.7" cy="875.7" r="9.2"/><circle cx="547.7" cy="876.7" r="9.2"/><circle cx="533.7" cy="883.7" r="9.2"/><circle cx="549.7" cy="893.7" r="9.2"/><circle cx="523.7" cy="903.7" r="9.2"/><circle cx="571.6" cy="889.7" r="9.2"/><circle cx="581.6" cy="875.7" r="9.2"/><circle cx="587.6" cy="889.7" r="9.2"/><circle cx="569.6" cy="903.7" r="9.2"/><circle cx="591.5" cy="901.7" r="9.2"/><circle cx="204.8" cy="1092.8" r="9.2"/><circle cx="256.6" cy="1092.8" r="9.2"/><circle cx="296.0" cy="1092.8" r="9.2"/><circle cx="300.0" cy="1092.8" r="9.2"/><circle cx="305.0" cy="1092.8" r="9.2"/><circle cx="310.0" cy="1092.8" r="9.2"/><circle cx="344.0" cy="1092.8" r="9.2"/><circle cx="350.0" cy="1092.8" r="9.2"/><circle cx="357.0" cy="1092.8" r="9.2"/><circle cx="374.0" cy="1092.8" r="9.2"/><circle cx="389.0" cy="1092.8" r="9.2"/><circle cx="396.0" cy="1092.8" r="9.2"/><circle cx="402.0" cy="1092.8" r="9.2"/><circle cx="410.0" cy="1092.8" r="9.2"/><circle cx="417.0" cy="1092.8" r="9.2"/><circle cx="426.0" cy="1092.8" r="9.2"/><circle cx="445.0" cy="1092.8" r="9.2"/><circle cx="452.0" cy="1092.8" r="9.2"/><circle cx="460.0" cy="1092.8" r="9.2"/><circle cx="468.0" cy="1092.8" r="9.2"/><circle cx="476.0" cy="1092.8" r="9.2"/><circle cx="664.0" cy="1092.8" r="9.2"/><circle cx="672.0" cy="1092.8" r="9.2"/><circle cx="680.0" cy="1092.8" r="9.2"/><circle cx="688.0" cy="1092.8" r="9.2"/><circle cx="730.7" cy="1092.8" r="9.2"/><circle cx="751.0" cy="1092.8" r="9.2"/><circle cx="756.0" cy="1092.8" r="9.2"/><circle cx="820.0" cy="1092.8" r="9.2"/><circle cx="826.0" cy="1092.8" r="9.2"/><circle cx="858.0" cy="1092.8" r="9.2"/><circle cx="866.0" cy="1092.8" r="9.2"/><circle cx="875.0" cy="1092.8" r="9.2"/><circle cx="207.3" cy="1092.8" r="9.2"/><circle cx="259.1" cy="1092.8" r="9.2"/><circle cx="298.5" cy="1092.8" r="9.2"/><circle cx="302.5" cy="1092.8" r="9.2"/><circle cx="307.5" cy="1092.8" r="9.2"/><circle cx="312.5" cy="1092.8" r="9.2"/><circle cx="346.5" cy="1092.8" r="9.2"/><circle cx="352.5" cy="1092.8" r="9.2"/><circle cx="359.5" cy="1092.8" r="9.2"/><circle cx="376.5" cy="1092.8" r="9.2"/><circle cx="391.5" cy="1092.8" r="9.2"/><circle cx="398.5" cy="1092.8" r="9.2"/><circle cx="404.5" cy="1092.8" r="9.2"/><circle cx="412.5" cy="1092.8" r="9.2"/><circle cx="419.5" cy="1092.8" r="9.2"/><circle cx="428.5" cy="1092.8" r="9.2"/><circle cx="447.5" cy="1092.8" r="9.2"/><circle cx="454.5" cy="1092.8" r="9.2"/><circle cx="462.5" cy="1092.8" r="9.2"/><circle cx="470.5" cy="1092.8" r="9.2"/><circle cx="478.5" cy="1092.8" r="9.2"/><circle cx="666.5" cy="1092.8" r="9.2"/><circle cx="674.5" cy="1092.8" r="9.2"/><circle cx="682.5" cy="1092.8" r="9.2"/><circle cx="690.5" cy="1092.8" r="9.2"/><circle cx="733.2" cy="1092.8" r="9.2"/><circle cx="753.5" cy="1092.8" r="9.2"/><circle cx="758.5" cy="1092.8" r="9.2"/><circle cx="822.5" cy="1092.8" r="9.2"/><circle cx="828.5" cy="1092.8" r="9.2"/><circle cx="860.5" cy="1092.8" r="9.2"/><circle cx="868.5" cy="1092.8" r="9.2"/><circle cx="877.5" cy="1092.8" r="9.2"/><circle cx="528.2" cy="913.9" r="9.2"/><circle cx="534.0" cy="913.8" r="9.2"/><circle cx="574.1" cy="913.7" r="9.2"/><circle cx="596.9" cy="913.6" r="9.2"/><circle cx="532.0" cy="918.8" r="9.2"/><circle cx="535.1" cy="919.2" r="9.2"/><circle cx="542.2" cy="918.0" r="9.2"/><circle cx="546.8" cy="919.1" r="9.2"/><circle cx="554.8" cy="919.2" r="9.2"/><circle cx="570.5" cy="915.4" r="9.2"/><circle cx="577.2" cy="917.7" r="9.2"/><circle cx="581.9" cy="918.0" r="9.2"/><circle cx="589.3" cy="916.4" r="9.2"/><circle cx="597.3" cy="917.1" r="9.2"/><circle cx="529.0" cy="920.4" r="9.2"/><circle cx="534.0" cy="923.9" r="9.2"/><circle cx="537.0" cy="923.6" r="9.2"/><circle cx="544.4" cy="922.8" r="9.2"/><circle cx="548.9" cy="920.5" r="9.2"/><circle cx="555.7" cy="924.4" r="9.2"/><circle cx="570.8" cy="924.3" r="9.2"/><circle cx="574.3" cy="921.8" r="9.2"/><circle cx="581.1" cy="923.6" r="9.2"/><circle cx="585.4" cy="923.5" r="9.2"/><circle cx="594.2" cy="924.0" r="9.2"/><circle cx="597.1" cy="924.3" r="9.2"/><circle cx="530.5" cy="929.4" r="9.2"/><circle cx="535.3" cy="929.4" r="9.2"/><circle cx="542.2" cy="926.9" r="9.2"/><circle cx="547.2" cy="926.3" r="9.2"/><circle cx="552.2" cy="926.2" r="9.2"/><circle cx="574.0" cy="927.8" r="9.2"/><circle cx="577.6" cy="926.6" r="9.2"/><circle cx="584.4" cy="929.0" r="9.2"/><circle cx="589.8" cy="927.3" r="9.2"/><circle cx="594.1" cy="929.4" r="9.2"/><circle cx="600.0" cy="927.6" r="9.2"/><circle cx="528.0" cy="934.8" r="9.2"/><circle cx="533.5" cy="934.1" r="9.2"/><circle cx="537.3" cy="932.6" r="9.2"/><circle cx="543.5" cy="934.3" r="9.2"/><circle cx="550.1" cy="932.7" r="9.2"/><circle cx="559.1" cy="934.4" r="9.2"/><circle cx="569.0" cy="933.8" r="9.2"/><circle cx="574.9" cy="932.0" r="9.2"/><circle cx="580.6" cy="931.4" r="9.2"/><circle cx="586.5" cy="934.9" r="9.2"/><circle cx="594.9" cy="933.4" r="9.2"/><circle cx="599.0" cy="932.2" r="9.2"/><circle cx="531.2" cy="939.6" r="9.2"/><circle cx="535.4" cy="939.3" r="9.2"/><circle cx="543.2" cy="938.9" r="9.2"/><circle cx="548.7" cy="939.2" r="9.2"/><circle cx="553.4" cy="939.0" r="9.2"/><circle cx="559.1" cy="938.0" r="9.2"/><circle cx="567.1" cy="938.9" r="9.2"/><circle cx="571.1" cy="940.0" r="9.2"/><circle cx="578.6" cy="938.4" r="9.2"/><circle cx="581.9" cy="938.3" r="9.2"/><circle cx="589.0" cy="938.8" r="9.2"/><circle cx="595.8" cy="939.4" r="9.2"/><circle cx="528.0" cy="944.7" r="9.2"/><circle cx="532.4" cy="944.8" r="9.2"/><circle cx="540.6" cy="944.1" r="9.2"/><circle cx="547.0" cy="945.2" r="9.2"/><circle cx="551.1" cy="943.4" r="9.2"/><circle cx="555.6" cy="944.7" r="9.2"/><circle cx="569.8" cy="944.2" r="9.2"/><circle cx="576.0" cy="941.9" r="9.2"/><circle cx="582.2" cy="943.7" r="9.2"/><circle cx="587.7" cy="943.0" r="9.2"/><circle cx="593.5" cy="944.5" r="9.2"/><circle cx="599.6" cy="944.2" r="9.2"/><circle cx="522.0" cy="947.1" r="9.2"/><circle cx="529.8" cy="949.2" r="9.2"/><circle cx="534.8" cy="949.3" r="9.2"/><circle cx="542.5" cy="946.6" r="9.2"/><circle cx="547.9" cy="947.4" r="9.2"/><circle cx="552.1" cy="947.0" r="9.2"/><circle cx="559.2" cy="947.2" r="9.2"/><circle cx="571.9" cy="948.0" r="9.2"/><circle cx="578.5" cy="948.9" r="9.2"/><circle cx="582.9" cy="950.2" r="9.2"/><circle cx="587.9" cy="948.1" r="9.2"/><circle cx="595.1" cy="948.2" r="9.2"/><circle cx="600.4" cy="949.9" r="9.2"/><circle cx="527.5" cy="952.1" r="9.2"/><circle cx="533.2" cy="953.1" r="9.2"/><circle cx="539.3" cy="955.7" r="9.2"/><circle cx="546.3" cy="953.4" r="9.2"/><circle cx="552.3" cy="954.4" r="9.2"/><circle cx="556.5" cy="952.3" r="9.2"/><circle cx="570.9" cy="955.7" r="9.2"/><circle cx="575.5" cy="953.1" r="9.2"/><circle cx="582.7" cy="951.7" r="9.2"/><circle cx="585.4" cy="954.0" r="9.2"/><circle cx="593.5" cy="952.3" r="9.2"/><circle cx="599.5" cy="955.4" r="9.2"/><circle cx="523.5" cy="958.7" r="9.2"/><circle cx="528.9" cy="958.1" r="9.2"/><circle cx="538.0" cy="958.5" r="9.2"/><circle cx="548.4" cy="958.0" r="9.2"/><circle cx="556.0" cy="959.0" r="9.2"/><circle cx="559.6" cy="958.2" r="9.2"/><circle cx="568.0" cy="958.9" r="9.2"/><circle cx="571.1" cy="958.9" r="9.2"/><circle cx="576.4" cy="959.5" r="9.2"/><circle cx="583.8" cy="958.1" r="9.2"/><circle cx="594.0" cy="959.1" r="9.2"/><circle cx="529.1" cy="873.6" r="9.2"/><circle cx="527.6" cy="881.3" r="9.2"/><circle cx="537.1" cy="881.5" r="9.2"/><circle cx="546.1" cy="884.1" r="9.2"/><circle cx="528.3" cy="889.3" r="9.2"/><circle cx="542.3" cy="894.2" r="9.2"/><circle cx="553.1" cy="888.2" r="9.2"/><circle cx="571.5" cy="872.6" r="9.2"/><circle cx="580.5" cy="870.0" r="9.2"/><circle cx="569.4" cy="879.5" r="9.2"/><circle cx="575.8" cy="877.9" r="9.2"/><circle cx="590.4" cy="878.4" r="9.2"/><circle cx="574.0" cy="890.4" r="9.2"/><circle cx="584.6" cy="889.3" r="9.2"/><circle cx="593.2" cy="889.1" r="9.2"/><circle cx="566.2" cy="894.6" r="9.2"/><circle cx="580.2" cy="897.7" r="9.2"/><circle cx="588.5" cy="893.2" r="9.2"/><circle cx="597.4" cy="894.1" r="9.2"/><circle cx="571.9" cy="907.5" r="9.2"/><circle cx="586.7" cy="901.7" r="9.2"/><circle cx="593.2" cy="904.7" r="9.2"/><circle cx="385.0" cy="1010.3" r="9.2"/><circle cx="392.1" cy="1012.9" r="9.2"/><circle cx="399.1" cy="1012.6" r="9.2"/><circle cx="406.2" cy="1011.7" r="9.2"/><circle cx="413.2" cy="1010.4" r="9.2"/><circle cx="420.3" cy="1013.2" r="9.2"/><circle cx="427.3" cy="1013.2" r="9.2"/><circle cx="434.4" cy="1011.7" r="9.2"/><circle cx="441.4" cy="1011.6" r="9.2"/><circle cx="448.5" cy="1010.2" r="9.2"/><circle cx="455.5" cy="1009.0" r="9.2"/><circle cx="462.6" cy="1010.8" r="9.2"/><circle cx="469.6" cy="1011.8" r="9.2"/><circle cx="476.7" cy="1009.2" r="9.2"/><circle cx="483.7" cy="1012.7" r="9.2"/><circle cx="490.8" cy="1009.9" r="9.2"/><circle cx="497.8" cy="1009.8" r="9.2"/><circle cx="504.9" cy="1008.8" r="9.2"/><circle cx="512.0" cy="1013.5" r="9.2"/><circle cx="519.0" cy="1011.0" r="9.2"/><circle cx="606.0" cy="1014.3" r="9.2"/><circle cx="613.1" cy="1010.2" r="9.2"/><circle cx="620.1" cy="1009.6" r="9.2"/><circle cx="627.2" cy="1014.5" r="9.2"/><circle cx="634.3" cy="1010.4" r="9.2"/><circle cx="641.3" cy="1010.1" r="9.2"/><circle cx="648.4" cy="1012.8" r="9.2"/><circle cx="655.5" cy="1011.2" r="9.2"/><circle cx="662.5" cy="1013.9" r="9.2"/><circle cx="669.6" cy="1010.7" r="9.2"/><circle cx="676.7" cy="1014.3" r="9.2"/><circle cx="683.7" cy="1011.1" r="9.2"/><circle cx="690.8" cy="1012.5" r="9.2"/><circle cx="697.9" cy="1014.2" r="9.2"/><circle cx="704.9" cy="1012.9" r="9.2"/><circle cx="712.0" cy="1012.0" r="9.2"/><circle cx="720.6" cy="1011.5" r="9.2"/><circle cx="741.9" cy="1010.6" r="9.2"/><circle cx="752.2" cy="1011.3" r="9.2"/><circle cx="716.8" cy="1020.6" r="9.2"/><circle cx="722.0" cy="1020.1" r="9.2"/><circle cx="732.0" cy="1022.0" r="9.2"/><circle cx="746.5" cy="1022.5" r="9.2"/><circle cx="751.4" cy="1017.2" r="9.2"/><circle cx="766.0" cy="1019.6" r="9.2"/><circle cx="772.5" cy="1021.8" r="9.2"/><circle cx="787.8" cy="1017.1" r="9.2"/><circle cx="792.2" cy="1020.0" r="9.2"/><circle cx="804.3" cy="1020.0" r="9.2"/><circle cx="719.7" cy="1029.2" r="9.2"/><circle cx="729.4" cy="1029.4" r="9.2"/><circle cx="740.3" cy="1030.4" r="9.2"/><circle cx="751.2" cy="1026.0" r="9.2"/><circle cx="757.1" cy="1023.9" r="9.2"/><circle cx="766.3" cy="1030.3" r="9.2"/><circle cx="783.0" cy="1029.4" r="9.2"/><circle cx="786.9" cy="1028.7" r="9.2"/><circle cx="705.9" cy="1035.4" r="9.2"/><circle cx="717.8" cy="1039.8" r="9.2"/><circle cx="722.9" cy="1035.6" r="9.2"/><circle cx="736.9" cy="1037.5" r="9.2"/><circle cx="744.3" cy="1035.7" r="9.2"/><circle cx="758.7" cy="1034.3" r="9.2"/><circle cx="762.7" cy="1037.6" r="9.2"/><circle cx="706.2" cy="1042.2" r="9.2"/><circle cx="721.3" cy="1041.3" r="9.2"/><circle cx="727.9" cy="1045.3" r="9.2"/><circle cx="737.2" cy="1043.4" r="9.2"/><circle cx="747.8" cy="1046.2" r="9.2"/><circle cx="706.1" cy="1053.6" r="9.2"/><circle cx="716.2" cy="1050.9" r="9.2"/></g>
<path d="M381 1008 L519 1008 L519 955 L604.5 955 L604.5 1008 L706 1008 L712 1012 L700 1040 L745 1042 L749.6 1044.5 L727 1062 L652 1085 L640 1099 L480 1099 L467 1082 L381 1053Z" fill="#A8A8A8"/>
<g fill="none" stroke="#A8A8A8" stroke-width="18.4" stroke-linecap="round" stroke-linejoin="round"><path d="M311 1021.5 L328 1025 L356 1034.5 L384 1044 L412 1054 L440 1063.5 L468 1073.5 L490 1080"/><path d="M334 1013 L350 1021 L365 1031 L381 1042"/><path d="M819.5 1019.3 L797 1027.5 L774.5 1035.5 L749.6 1044.5 L727.5 1053.5 L700 1062 L672 1070.5 L652 1076"/><path d="M790 1011 L765 1028 L745 1042"/><path d="M740 1012 L718 1028 L700 1040"/></g>
</g>
<rect x="125.8" y="78.6" width="874.6" height="1020.4" fill="none" stroke="#000" stroke-width="1.6"/>
<g stroke="#000" stroke-width="1.6">
<path d="M118.2 1092.8H125.8M118.2 966H125.8M118.2 839.2H125.8M118.2 712.5H125.8M118.2 585.7H125.8M118.2 458.9H125.8M118.2 332.1H125.8M118.2 205.3H125.8M118.2 78.6H125.8"/>
<path d="M198.4 1099V1106M380.7 1099V1106M563 1099V1106M745.3 1099V1106M927.6 1099V1106"/>
</g>
<g fill="#000">
<text x="112.5" y="1106.40" font-size="38.8" text-anchor="end">0</text>
<text x="112.5" y="979.62" font-size="38.8" text-anchor="end">2</text>
<text x="112.5" y="852.84" font-size="38.8" text-anchor="end">4</text>
<text x="112.5" y="726.06" font-size="38.8" text-anchor="end">6</text>
<text x="112.5" y="599.28" font-size="38.8" text-anchor="end">8</text>
<text x="71.60" y="472.50" font-size="38.8" textLength="40.02" lengthAdjust="spacingAndGlyphs">10</text>
<text x="71.57" y="345.72" font-size="38.8" textLength="40.43" lengthAdjust="spacingAndGlyphs">12</text>
<text x="71.63" y="218.94" font-size="38.8" textLength="39.62" lengthAdjust="spacingAndGlyphs">14</text>
<text x="71.59" y="92.16" font-size="38.8" textLength="40.22" lengthAdjust="spacingAndGlyphs">16</text>
<text x="167.14" y="1139.60" font-size="38.8" textLength="63.20" lengthAdjust="spacingAndGlyphs">−10</text>
<text x="359.41" y="1139.60" font-size="38.8" textLength="43.00" lengthAdjust="spacingAndGlyphs">−5</text>
<text x="552.31" y="1139.60" font-size="38.8" textLength="20.72" lengthAdjust="spacingAndGlyphs">0</text>
<text x="734.58" y="1139.60" font-size="38.8" textLength="21.19" lengthAdjust="spacingAndGlyphs">5</text>
<text x="907.76" y="1139.60" font-size="38.8" textLength="40.58" lengthAdjust="spacingAndGlyphs">10</text>
<text x="362.32" y="1204.50" font-size="48.1" textLength="65.23" lengthAdjust="spacingAndGlyphs">log</text>
<text x="427.96" y="1212.40" font-size="35.9" textLength="20.41" lengthAdjust="spacingAndGlyphs">2</text>
<text x="451.38" y="1204.50" font-size="48.1" textLength="311.56" lengthAdjust="spacingAndGlyphs">(Fold Change)</text>
<text x="478.86" y="1272.00" font-size="51" textLength="168.36" lengthAdjust="spacingAndGlyphs">A_vs_B</text>
<text transform="rotate(-90)" x="-743.52" y="37.00" font-size="48.1" textLength="82.25" lengthAdjust="spacingAndGlyphs">-log</text>
<text transform="rotate(-90)" x="-660.62" y="45.70" font-size="35.9" textLength="41.81" lengthAdjust="spacingAndGlyphs">10</text>
<text transform="rotate(-90)" x="-616.52" y="37.00" font-size="48.1" textLength="181.43" lengthAdjust="spacingAndGlyphs">(Pvalue)</text>
<text x="183.52" y="22.60" font-size="29" textLength="266.11" lengthAdjust="spacingAndGlyphs">Down regulated(395)</text>
<text x="513.11" y="22.60" font-size="29" textLength="187.63" lengthAdjust="spacingAndGlyphs">Not sig(54323)</text>
<text x="764.66" y="22.60" font-size="29" textLength="230.08" lengthAdjust="spacingAndGlyphs">Up regulated(273)</text>
</g>
<circle cx="161.2" cy="15" r="13.8" fill="#00BCD4" fill-opacity="0.7"/>
<circle cx="491" cy="15" r="13.8" fill="#A8A8A8" fill-opacity="0.7"/>
<circle cx="742.3" cy="15.2" r="13.8" fill="#F9967D" fill-opacity="0.7"/>
</svg>
</body></html>
